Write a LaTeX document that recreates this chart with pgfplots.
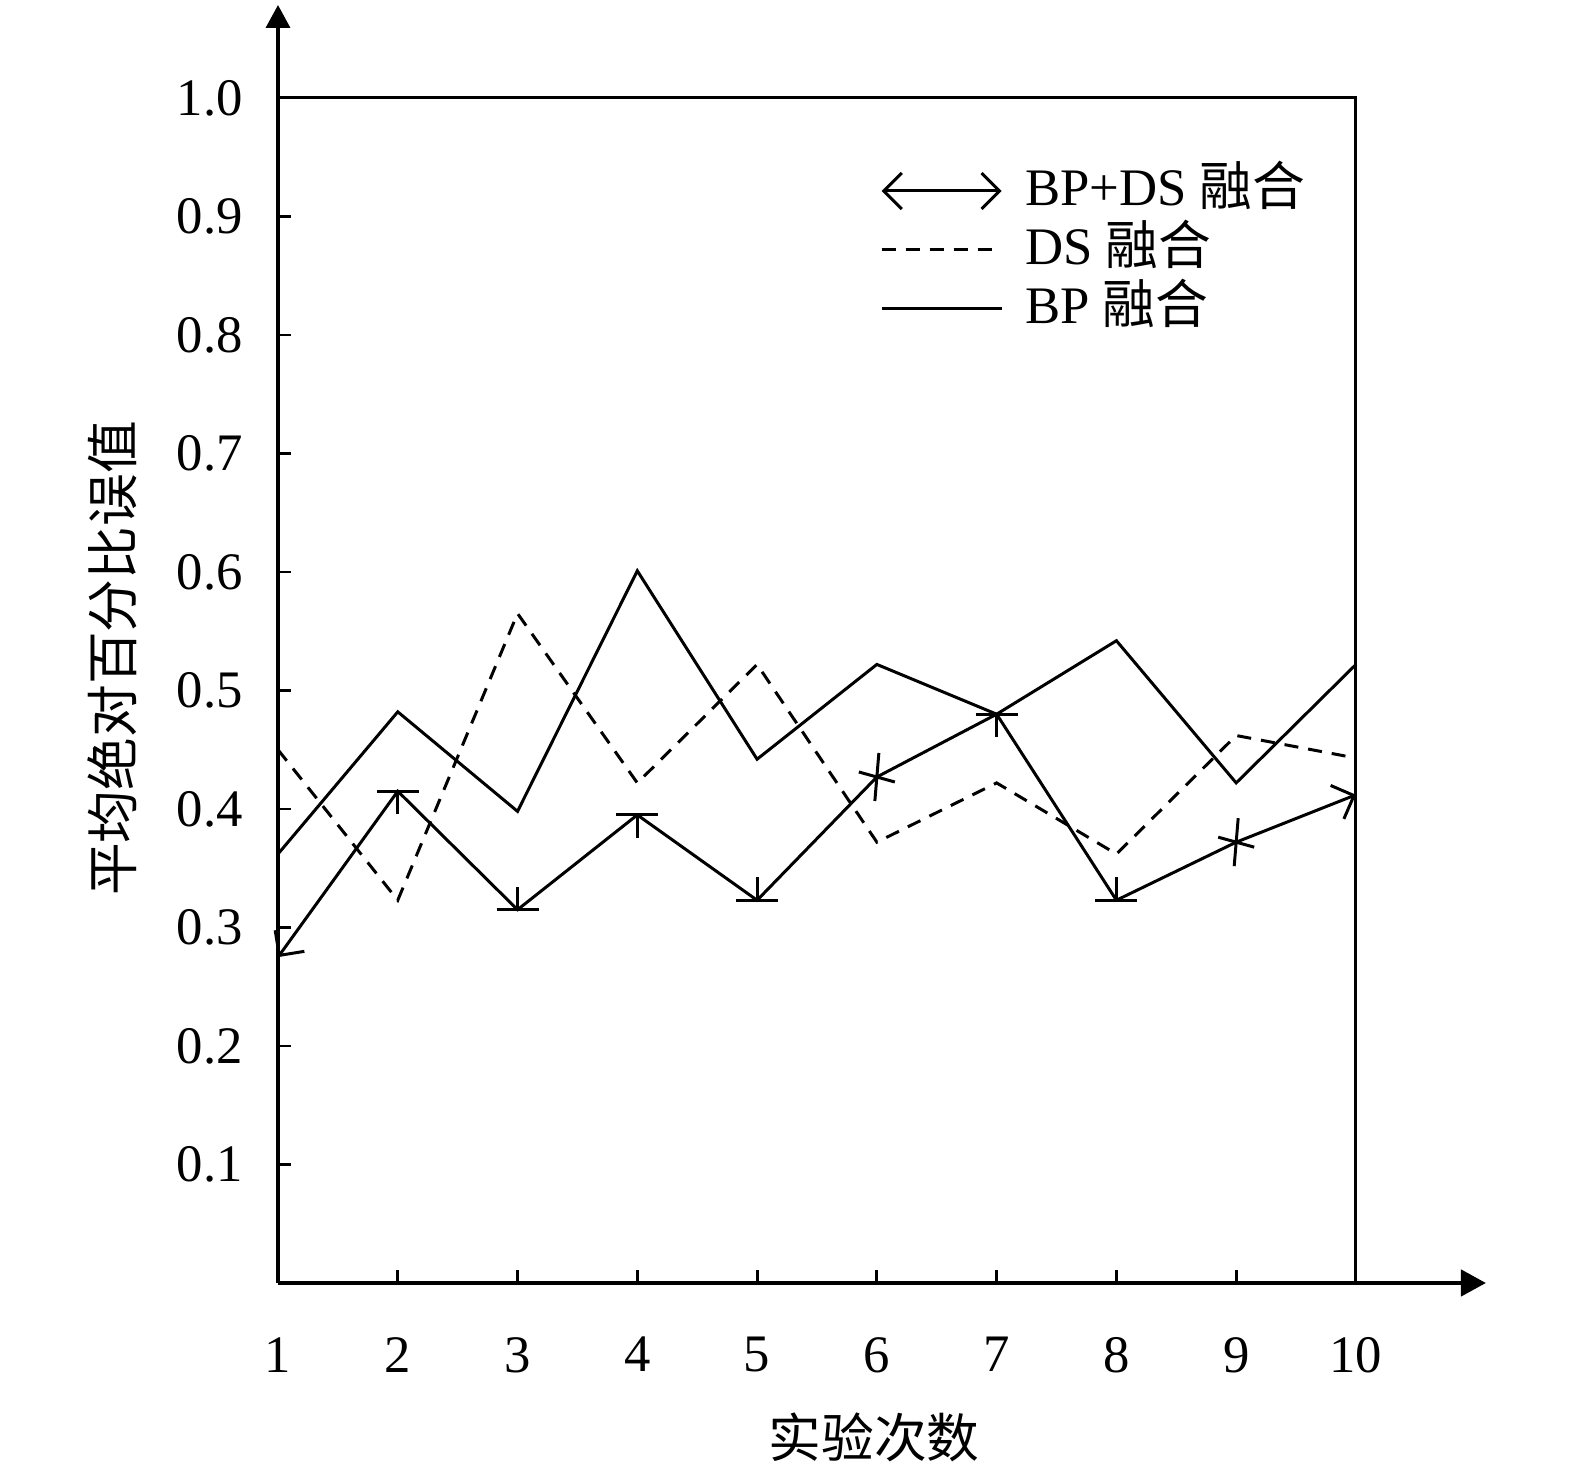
\documentclass[border=0pt]{standalone}
\usepackage{fontspec}
\setmainfont{Liberation Serif}
\newfontfamily\cjk{Noto Sans CJK SC}
\usepackage{pgfplots}
\pgfplotsset{compat=1.18}
\usetikzlibrary{arrows.meta}

\pgfdeclareplotmark{Tdown}{%
  \pgfpathmoveto{\pgfpoint{-0.21cm}{0pt}}%
  \pgfpathlineto{\pgfpoint{0.21cm}{0pt}}%
  \pgfpathmoveto{\pgfpoint{0pt}{0pt}}%
  \pgfpathlineto{\pgfpoint{0pt}{-0.23cm}}%
  \pgfusepathqstroke}
\pgfdeclareplotmark{Tup}{%
  \pgfpathmoveto{\pgfpoint{-0.21cm}{0pt}}%
  \pgfpathlineto{\pgfpoint{0.21cm}{0pt}}%
  \pgfpathmoveto{\pgfpoint{0pt}{0pt}}%
  \pgfpathlineto{\pgfpoint{0pt}{0.23cm}}%
  \pgfusepathqstroke}
\pgfdeclareplotmark{Cross}{%
  \pgfpathmoveto{\pgfpoint{-0.18cm}{0.05cm}}%
  \pgfpathlineto{\pgfpoint{0.18cm}{-0.05cm}}%
  \pgfpathmoveto{\pgfpoint{0.02cm}{0.24cm}}%
  \pgfpathlineto{\pgfpoint{-0.02cm}{-0.24cm}}%
  \pgfusepathqstroke}

\pgfplotstableread{
x y
1 0.275
2 0.415
3 0.315
4 0.395
5 0.323
6 0.427
7 0.480
8 0.323
9 0.372
10 0.412
}\bpds
\pgfplotstableread{
x y c
2 0.415 a
3 0.315 b
4 0.395 a
5 0.323 b
6 0.427 c
7 0.480 a
8 0.323 b
9 0.372 c
}\bpdsmarks
\pgfplotstableread{
x y
1 0.450
2 0.323
3 0.565
4 0.422
5 0.522
6 0.372
7 0.422
8 0.362
9 0.462
10 0.443
}\ds
\pgfplotstableread{
x y
1 0.362
2 0.482
3 0.398
4 0.601
5 0.442
6 0.522
7 0.480
8 0.542
9 0.422
10 0.522
}\bp

\begin{document}
\fontsize{15pt}{18pt}\selectfont
\begin{tikzpicture}
\path[use as bounding box] (-2.78cm,-1.86cm) rectangle (12.97cm,12.83cm);
\begin{axis}[
  scale only axis, width=10.78cm, height=11.85cm,
  xmin=1, xmax=10, ymin=0, ymax=1,
  enlargelimits=false, clip=false,
  axis lines=left,
  x axis line style={line width=1.3pt, shorten >=-1.30cm, -{Triangle[length=0.25cm,width=0.26cm]}},
  y axis line style={line width=1pt, shorten >=-0.93cm, -{Triangle[length=0.23cm,width=0.24cm]}},
  xtick={1,2,3,4,5,6,7,8,9,10},
  ytick={0.1,0.2,0.3,0.4,0.5,0.6,0.7,0.8,0.9,1.0},
  tick align=inside,
  major tick length=0.13cm,
  tick style={line width=0.8pt, black},
  /pgf/number format/assume math mode=true,
  yticklabel style={/pgf/number format/.cd, fixed, fixed zerofill, precision=1, /tikz/.cd, xshift=-0.17cm},
  xticklabel style={yshift=-0.36cm},
  xlabel={\cjk 实验次数},
  xlabel style={at={(axis description cs:0.553,-0.130)}, anchor=center},
  ylabel={\cjk 平均绝对百分比误值},
  ylabel style={at={(axis description cs:-0.154,0.527)}, anchor=center},
  legend style={at={(axis description cs:0.558,0.947)}, anchor=north west,
    draw=none, fill=none, inner sep=0pt,
    nodes={inner sep=0.045cm, text height=0.4cm, text depth=0.1cm}},
  legend cell align=left,
]
\draw[line width=0.85pt] (rel axis cs:0,1) -- (rel axis cs:1,1) -- (rel axis cs:1,0);

\addplot[black, line width=0.85pt, no markers,
  {Straight Barb[length=0.18cm,width=0.36cm]}-{Straight Barb[length=0.18cm,width=0.36cm]},
  legend image code/.code={\draw[black, line width=0.85pt, {Straight Barb[length=0.18cm,width=0.36cm]}-{Straight Barb[length=0.18cm,width=0.36cm]}] (0cm,0cm) -- (1.2cm,0cm); \path[draw=none,-] (1.2cm,0cm) -- (1.39cm,0cm);}]
  table[x=x,y=y]{\bpds};
\addlegendentry{BP+DS {\cjk 融合}}

\addplot[black, line width=0.85pt, no markers, dash pattern=on 0.14cm off 0.1cm,
  legend image code/.code={\draw[black, line width=0.85pt, dash pattern=on 0.14cm off 0.1cm] (0cm,0cm) -- (1.2cm,0cm); \path[draw=none,-] (1.2cm,0cm) -- (1.39cm,0cm);}]
  table[x=x,y=y]{\ds};
\addlegendentry{DS {\cjk 融合}}

\addplot[black, line width=0.85pt, no markers,
  legend image code/.code={\draw[black, line width=0.85pt] (0cm,0cm) -- (1.2cm,0cm); \path[draw=none,-] (1.2cm,0cm) -- (1.39cm,0cm);}]
  table[x=x,y=y]{\bp};
\addlegendentry{BP {\cjk 融合}}

\addplot[only marks, scatter, forget plot, line width=0.85pt,
  point meta=explicit symbolic,
  scatter/classes={a={mark=Tdown,draw=black},b={mark=Tup,draw=black},c={mark=Cross,draw=black}}]
  table[x=x,y=y,meta=c]{\bpdsmarks};
\end{axis}
\end{tikzpicture}
\end{document}
